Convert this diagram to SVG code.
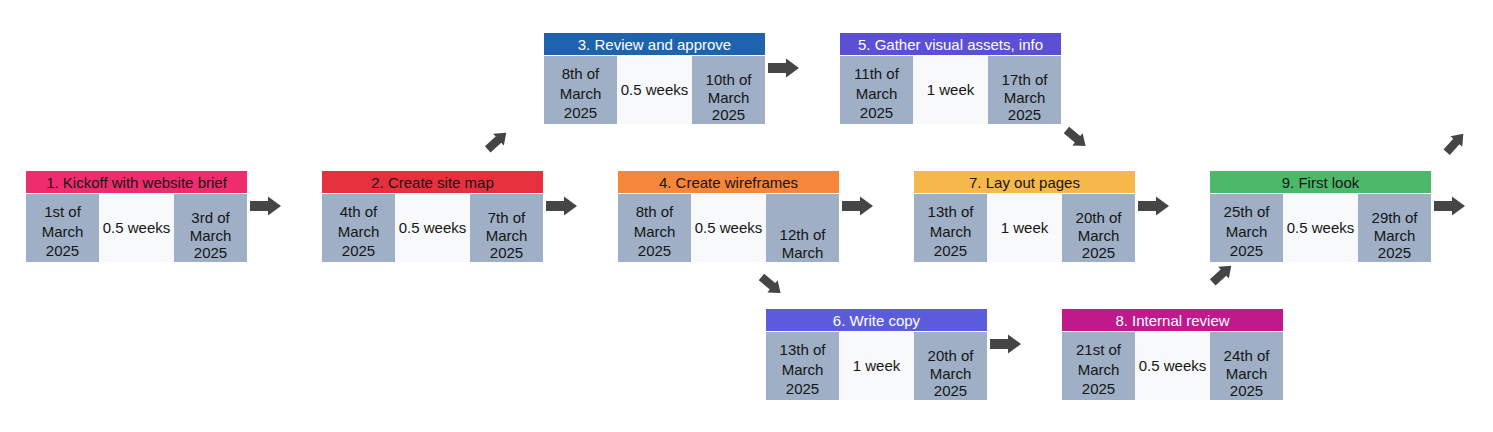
<svg xmlns="http://www.w3.org/2000/svg" xmlns:xlink="http://www.w3.org/1999/xlink" width="1493" height="432" viewBox="0 0 1493 432">
<style>
text{font-family:"Liberation Sans",Arial,sans-serif;font-size:15px;text-anchor:middle;fill:#151515}
.hd{font-size:15px}
.hw{fill:#ffffff}
.side{fill:#9eafc6}
.mid{fill:#f7f9fb}
</style>
<defs>
<path id="arr" d="M0,-5 H18 V-9.5 L31,0 L18,9.5 V5 H0 Z" fill="#454545"/>
<path id="darr" d="M-12.5,-4.2 H2 V-8 L12.5,0 L2,8 V4.2 H-12.5 Z" fill="#454545"/>
</defs>
<rect width="1493" height="432" fill="#ffffff"/>

<g id="connectors">
<use xlink:href="#arr" transform="translate(250,206)"/>
<use xlink:href="#arr" transform="translate(546,206)"/>
<use xlink:href="#arr" transform="translate(842,206)"/>
<use xlink:href="#arr" transform="translate(1138,206)"/>
<use xlink:href="#arr" transform="translate(1434,206)"/>
<use xlink:href="#arr" transform="translate(768,68)"/>
<use xlink:href="#arr" transform="translate(990,344)"/>
<use xlink:href="#darr" transform="translate(497,141) rotate(-42)"/>
<use xlink:href="#darr" transform="translate(771,285) rotate(40)"/>
<use xlink:href="#darr" transform="translate(1076,138) rotate(40)"/>
<use xlink:href="#darr" transform="translate(1222,274) rotate(-42)"/>
<use xlink:href="#darr" transform="translate(1455,143) rotate(-48)"/>
</g>

<g id="node1" transform="translate(26,171)">
<rect width="221" height="22" fill="#ee2d6e"/>
<text class="hd" x="110.5" y="16.5">1. Kickoff with website brief</text>
<rect class="side" y="23" width="73" height="68"/>
<rect class="mid" x="73" y="23" width="75" height="68"/>
<rect class="side" x="148" y="23" width="73" height="68"/>
<text x="36.5" y="46">1st of</text><text x="36.5" y="65.5">March</text><text x="36.5" y="85">2025</text>
<text x="110.5" y="61.5">0.5 weeks</text>
<text x="184.5" y="51.5">3rd of</text><text x="184.5" y="69.5">March</text><text x="184.5" y="87">2025</text>
</g>

<g id="node2" transform="translate(322,171)">
<rect width="221" height="22" fill="#e6303d"/>
<text class="hd" x="110.5" y="16.5">2. Create site map</text>
<rect class="side" y="23" width="73" height="68"/>
<rect class="mid" x="73" y="23" width="75" height="68"/>
<rect class="side" x="148" y="23" width="73" height="68"/>
<text x="36.5" y="46">4th of</text><text x="36.5" y="65.5">March</text><text x="36.5" y="85">2025</text>
<text x="110.5" y="61.5">0.5 weeks</text>
<text x="184.5" y="51.5">7th of</text><text x="184.5" y="69.5">March</text><text x="184.5" y="87">2025</text>
</g>

<g id="node3" transform="translate(544,33)">
<rect width="221" height="22" fill="#1f63ae"/>
<text class="hd hw" x="110.5" y="16.5">3. Review and approve</text>
<rect class="side" y="23" width="73" height="68"/>
<rect class="mid" x="73" y="23" width="75" height="68"/>
<rect class="side" x="148" y="23" width="73" height="68"/>
<text x="36.5" y="46">8th of</text><text x="36.5" y="65.5">March</text><text x="36.5" y="85">2025</text>
<text x="110.5" y="61.5">0.5 weeks</text>
<text x="184.5" y="51.5">10th of</text><text x="184.5" y="69.5">March</text><text x="184.5" y="87">2025</text>
</g>

<g id="node4" transform="translate(618,171)">
<rect width="221" height="22" fill="#f5863a"/>
<text class="hd" x="110.5" y="16.5">4. Create wireframes</text>
<rect class="side" y="23" width="73" height="68"/>
<rect class="mid" x="73" y="23" width="75" height="68"/>
<rect class="side" x="148" y="23" width="73" height="68"/>
<text x="36.5" y="46">8th of</text><text x="36.5" y="65.5">March</text><text x="36.5" y="85">2025</text>
<text x="110.5" y="61.5">0.5 weeks</text>
<text x="184.5" y="69">12th of</text><text x="184.5" y="87">March</text>
</g>

<g id="node5" transform="translate(840,33)">
<rect width="221" height="22" fill="#5b50d4"/>
<text class="hd hw" x="110.5" y="16.5">5. Gather visual assets, info</text>
<rect class="side" y="23" width="73" height="68"/>
<rect class="mid" x="73" y="23" width="75" height="68"/>
<rect class="side" x="148" y="23" width="73" height="68"/>
<text x="36.5" y="46">11th of</text><text x="36.5" y="65.5">March</text><text x="36.5" y="85">2025</text>
<text x="110.5" y="61.5">1 week</text>
<text x="184.5" y="51.5">17th of</text><text x="184.5" y="69.5">March</text><text x="184.5" y="87">2025</text>
</g>

<g id="node6" transform="translate(766,309)">
<rect width="221" height="22" fill="#5b5cdc"/>
<text class="hd hw" x="110.5" y="16.5">6. Write copy</text>
<rect class="side" y="23" width="73" height="68"/>
<rect class="mid" x="73" y="23" width="75" height="68"/>
<rect class="side" x="148" y="23" width="73" height="68"/>
<text x="36.5" y="46">13th of</text><text x="36.5" y="65.5">March</text><text x="36.5" y="85">2025</text>
<text x="110.5" y="61.5">1 week</text>
<text x="184.5" y="51.5">20th of</text><text x="184.5" y="69.5">March</text><text x="184.5" y="87">2025</text>
</g>

<g id="node7" transform="translate(914,171)">
<rect width="221" height="22" fill="#f7b84b"/>
<text class="hd" x="110.5" y="16.5">7. Lay out pages</text>
<rect class="side" y="23" width="73" height="68"/>
<rect class="mid" x="73" y="23" width="75" height="68"/>
<rect class="side" x="148" y="23" width="73" height="68"/>
<text x="36.5" y="46">13th of</text><text x="36.5" y="65.5">March</text><text x="36.5" y="85">2025</text>
<text x="110.5" y="61.5">1 week</text>
<text x="184.5" y="51.5">20th of</text><text x="184.5" y="69.5">March</text><text x="184.5" y="87">2025</text>
</g>

<g id="node8" transform="translate(1062,309)">
<rect width="221" height="22" fill="#c0198c"/>
<text class="hd hw" x="110.5" y="16.5">8. Internal review</text>
<rect class="side" y="23" width="73" height="68"/>
<rect class="mid" x="73" y="23" width="75" height="68"/>
<rect class="side" x="148" y="23" width="73" height="68"/>
<text x="36.5" y="46">21st of</text><text x="36.5" y="65.5">March</text><text x="36.5" y="85">2025</text>
<text x="110.5" y="61.5">0.5 weeks</text>
<text x="184.5" y="51.5">24th of</text><text x="184.5" y="69.5">March</text><text x="184.5" y="87">2025</text>
</g>

<g id="node9" transform="translate(1210,171)">
<rect width="221" height="22" fill="#4cb86a"/>
<text class="hd" x="110.5" y="16.5">9. First look</text>
<rect class="side" y="23" width="73" height="68"/>
<rect class="mid" x="73" y="23" width="75" height="68"/>
<rect class="side" x="148" y="23" width="73" height="68"/>
<text x="36.5" y="46">25th of</text><text x="36.5" y="65.5">March</text><text x="36.5" y="85">2025</text>
<text x="110.5" y="61.5">0.5 weeks</text>
<text x="184.5" y="51.5">29th of</text><text x="184.5" y="69.5">March</text><text x="184.5" y="87">2025</text>
</g>
</svg>
